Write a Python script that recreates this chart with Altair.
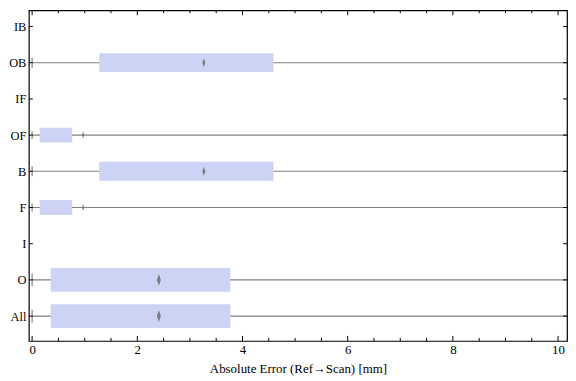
import altair as alt
import pandas as pd

# ---- data ----
categories = ["IB", "OB", "IF", "OF", "B", "F", "I", "O", "All"]
box_cats = ["OB", "OF", "B", "F", "O", "All"]
q_low = [1.277, 0.145, 1.277, 0.145, 0.353, 0.353]
q_high = [4.59, 0.762, 4.59, 0.762, 3.77, 3.77]
means = [3.265, 0.97, 3.265, 0.97, 2.41, 2.41]
whisker_low = [0, 0, 0, 0, 0, 0]
whisker_high = [15, 15, 15, 15, 15, 15]

major_ticks = [0, 2, 4, 6, 8, 10]
minor_ticks = [0.5, 1, 1.5, 2.5, 3, 3.5, 4.5, 5, 5.5, 6.5, 7, 7.5, 8.5, 9, 9.5]

# ---- styling (pixels) ----
BOX_PX = {"OB": 19, "B": 19, "OF": 15, "F": 15, "O": 24, "All": 24}
CAP_PX = {"OB": 10, "B": 10, "OF": 8, "F": 8, "O": 13, "All": 13}
MEAN_PX = {"OB": 9, "B": 9, "OF": 7, "F": 7, "O": 12, "All": 12}

W, H = 542, 333
FONT = "Liberation Serif"
BOX_COLOR = "#ccd3f4"
LINE_COLOR = "#808080"

df = pd.DataFrame({
    "cat": box_cats, "q1": q_low, "q3": q_high, "mean": means,
    "lo": whisker_low, "hi": whisker_high,
})
df["box_px"] = df["cat"].map(BOX_PX)
df["cap_sz"] = df["cat"].map(CAP_PX) ** 2
df["mean_sz"] = df["cat"].map(MEAN_PX) ** 2

cat_df = pd.DataFrame({"cat": categories})
major_df = pd.DataFrame({"t": major_ticks})
minor_df = pd.DataFrame({"t": minor_ticks})

xscale = alt.Scale(domain=[-0.062, 10.17], nice=False, zero=False)
yscale = alt.Scale(type="point", range=[16.3, 308], padding=0)

x_axis = alt.Axis(values=major_ticks, ticks=False, domain=False, grid=False,
                  labelFont=FONT, labelFontSize=13, labelColor="black", labelPadding=3,
                  title="Absolute Error (Ref\u2192Scan) [mm]", titleFont=FONT,
                  titleFontSize=13, titleFontWeight="normal", titleColor="black",
                  titlePadding=6)
y_axis = alt.Axis(ticks=False, domain=False, grid=False, labelFont=FONT,
                  labelFontSize=12.5, labelColor="black", labelPadding=3,
                  minExtent=20, maxExtent=20, title=None)

Y = alt.Y("cat:N", sort=categories, scale=yscale, axis=y_axis)

whisk = alt.Chart(df).mark_rule(color=LINE_COLOR, strokeWidth=1.1, clip=True).encode(
    x=alt.X("lo:Q", scale=xscale, axis=x_axis), x2="hi:Q", y=Y)

box = alt.Chart(df).mark_bar(color=BOX_COLOR, opacity=1).encode(
    x=alt.X("q1:Q", scale=xscale), x2="q3:Q", y=Y,
    size=alt.Size("box_px:Q", scale=None))

cap = alt.Chart(df).mark_point(
    shape="M0,-1L0,1", filled=False, color=LINE_COLOR, strokeWidth=1.2, opacity=1).encode(
    x=alt.X("lo:Q", scale=xscale), y=Y, size=alt.Size("cap_sz:Q", scale=None))

mean_pt = alt.Chart(df).mark_point(
    shape="M0,-1L0.32,0L0,1L-0.32,0Z", filled=True, color="#7a7a7a", opacity=1).encode(
    x=alt.X("mean:Q", scale=xscale), y=Y, size=alt.Size("mean_sz:Q", scale=None))

# inward frame ticks
def xticks(d, length, bottom=True):
    if bottom:
        return alt.Chart(d).mark_rule(color="black", strokeWidth=1).encode(
            x=alt.X("t:Q", scale=xscale), y=alt.value(H), y2=alt.value(H - length))
    return alt.Chart(d).mark_rule(color="black", strokeWidth=1).encode(
        x=alt.X("t:Q", scale=xscale), y=alt.value(0), y2=alt.value(length))

yt_left = alt.Chart(cat_df).mark_rule(color="black", strokeWidth=1).encode(
    y=Y, x=alt.value(0), x2=alt.value(4))
yt_right = alt.Chart(cat_df).mark_rule(color="black", strokeWidth=1).encode(
    y=Y, x=alt.value(W - 4), x2=alt.value(W))

chart = alt.layer(
    whisk, box, cap, mean_pt,
    xticks(major_df, 5), xticks(minor_df, 3),
    xticks(major_df, 5, False), xticks(minor_df, 3, False),
    yt_left, yt_right,
).properties(
    width=W, height=H, padding={"left": 0, "top": 0, "right": 0, "bottom": 0}
).configure_view(stroke="black", strokeWidth=1.2)

chart.save("out.html", embed_options={"renderer": "svg", "actions": False})
